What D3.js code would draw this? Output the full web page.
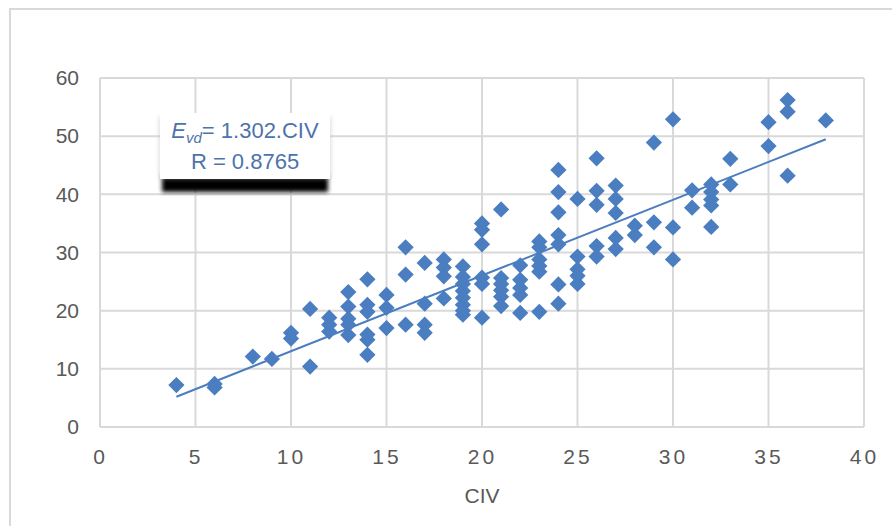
<!DOCTYPE html>
<html>
<head>
<meta charset="utf-8">
<script src="https://cdn.jsdelivr.net/npm/d3@7"></script>
<style>
  html, body { margin: 0; padding: 0; background: #ffffff; }
  svg { display: block; }
  text { font-family: "Liberation Sans", Arial, sans-serif; }
</style>
</head>
<body>
<svg id="chart" width="892" height="526"></svg>
<script>
// CIV (x) and Evd (y) pairs, one entry per observation
const civ = [
  4,
  6, 6,
  8,
  9,
  10, 10,
  11, 11,
  12, 12, 12,
  13, 13, 13, 13, 13,
  14, 14, 14, 14, 14, 14,
  15, 15, 15,
  16, 16, 16,
  17, 17, 17, 17,
  18, 18, 18, 18,
  19, 19, 19, 19, 19, 19, 19, 19,
  20, 20, 20, 20, 20, 20,
  21, 21, 21, 21, 21, 21,
  22, 22, 22, 22, 22,
  23, 23, 23, 23, 23, 23,
  24, 24, 24, 24, 24, 24, 24,
  25, 25, 25, 25, 25,
  26, 26, 26, 26, 26,
  27, 27, 27, 27, 27,
  28, 28,
  29, 29, 29,
  30, 30, 30,
  31, 31,
  32, 32, 32, 32, 32,
  33, 33,
  35, 35,
  36, 36, 36,
  38
];
const evd = [
  7.2,
  7.4, 6.8,
  12.1,
  11.7,
  16.2, 15.2,
  20.3, 10.4,
  18.8, 17.6, 16.4,
  23.2, 20.7, 18.6, 17.6, 15.8,
  25.4, 21.0, 19.8, 15.9, 15.0, 12.4,
  22.7, 20.5, 17.0,
  30.9, 26.2, 17.6,
  28.2, 21.2, 17.6, 16.2,
  28.8, 27.4, 25.9, 22.1,
  27.6, 25.8, 24.6, 23.4, 22.2, 21.0, 20.0, 19.3,
  35.0, 33.9, 31.4, 25.7, 24.6, 18.8,
  37.4, 25.6, 24.6, 23.5, 22.4, 20.8,
  27.8, 25.3, 23.9, 22.7, 19.6,
  31.9, 30.9, 28.8, 27.7, 26.7, 19.8,
  44.2, 40.4, 36.9, 33.0, 31.4, 24.5, 21.2,
  39.2, 29.3, 27.1, 26.0, 24.6,
  46.2, 40.6, 38.2, 31.1, 29.3,
  41.5, 39.2, 36.8, 32.5, 30.6,
  34.6, 33.0,
  48.9, 35.2, 30.9,
  52.9, 34.3, 28.8,
  40.7, 37.7,
  41.7, 40.4, 39.1, 38.1, 34.4,
  46.1, 41.7,
  52.4, 48.3,
  56.2, 54.2, 43.2,
  52.7
];

// Fitted line Evd = slope * CIV, drawn over the observed CIV range
const slope = 1.302;
const rValue = "0.8765";
const xTicks = [0, 5, 10, 15, 20, 25, 30, 35, 40];
const yTicks = [0, 10, 20, 30, 40, 50, 60];
const xTitle = "CIV";

const points = civ.map((c, i) => ({ x: c, y: evd[i] }));

const blue = "#4a7ec0";
const grid = "#d9d9d9";
const labelColor = "#595959";

const svg = d3.select("#chart");

const plot = { left: 100, right: 864, top: 78, bottom: 427 };
const x = d3.scaleLinear().domain([0, 40]).range([plot.left, plot.right]);
const y = d3.scaleLinear().domain([0, 60]).range([plot.bottom, plot.top]);

// Outer chart frame
svg.append("rect")
  .attr("x", 10).attr("y", 9)
  .attr("width", 900).attr("height", 540)
  .attr("fill", "#ffffff")
  .attr("stroke", grid).attr("stroke-width", 2);

// Gridlines
svg.append("g").selectAll("line.v").data(xTicks).join("line")
  .attr("x1", d => x(d)).attr("x2", d => x(d))
  .attr("y1", plot.top).attr("y2", plot.bottom)
  .attr("stroke", grid).attr("stroke-width", 2);
svg.append("g").selectAll("line.h").data(yTicks).join("line")
  .attr("x1", plot.left).attr("x2", plot.right)
  .attr("y1", d => y(d)).attr("y2", d => y(d))
  .attr("stroke", grid).attr("stroke-width", 2);

// Y axis labels
const yAxis = d3.axisLeft(y).tickValues(yTicks).tickSize(0).tickPadding(21);
const gy = svg.append("g").attr("transform", `translate(${plot.left},0)`).call(yAxis);
gy.select(".domain").remove();
gy.selectAll("text")
  .attr("fill", labelColor)
  .style("font-size", "21px")
  .style("font-family", "'Liberation Sans', Arial, sans-serif");

// X axis labels
const xAxis = d3.axisBottom(x).tickValues(xTicks).tickSize(0).tickPadding(22);
const gx = svg.append("g").attr("transform", `translate(0,${plot.bottom})`).call(xAxis);
gx.select(".domain").remove();
gx.selectAll("text")
  .attr("fill", labelColor)
  .style("font-size", "21px")
  .style("letter-spacing", "3px")
  .style("font-family", "'Liberation Sans', Arial, sans-serif");

// X axis title
svg.append("text")
  .attr("x", x(20)).attr("y", 503)
  .attr("text-anchor", "middle")
  .attr("fill", labelColor)
  .style("font-size", "21px")
  .text(xTitle);

// Trendline
const xMin = d3.min(civ), xMax = d3.max(civ);
svg.append("line")
  .attr("x1", x(xMin)).attr("y1", y(slope * xMin))
  .attr("x2", x(xMax)).attr("y2", y(slope * xMax))
  .attr("stroke", blue).attr("stroke-width", 2);

// Data markers (diamonds)
const diamond = d3.symbol().type(d3.symbolSquare).size(132);
svg.append("g").selectAll("path").data(points).join("path")
  .attr("d", diamond)
  .attr("transform", d => `translate(${x(d.x)},${y(d.y)}) rotate(45)`)
  .attr("fill", blue);

// Equation label with shadow
const defs = svg.append("defs");
defs.append("filter").attr("id", "soft")
  .attr("x", "-20%").attr("y", "-50%").attr("width", "140%").attr("height", "200%")
  .append("feGaussianBlur").attr("stdDeviation", 2.2);

const box = { x: 160, y: 113, w: 170, h: 66 };
svg.append("rect")
  .attr("x", box.x + 2).attr("y", box.y + box.h - 4)
  .attr("width", box.w - 4).attr("height", 17)
  .attr("fill", "#000000")
  .attr("filter", "url(#soft)");
svg.append("rect")
  .attr("x", box.x - 1).attr("y", box.y + 4)
  .attr("width", box.w + 2).attr("height", box.h - 4)
  .attr("fill", "#bbbbbb")
  .attr("opacity", 0.5)
  .attr("filter", "url(#soft)");
svg.append("rect")
  .attr("x", box.x).attr("y", box.y)
  .attr("width", box.w).attr("height", box.h)
  .attr("fill", "#ffffff");

const eq = svg.append("text")
  .attr("x", box.x + box.w / 2).attr("y", 138)
  .attr("text-anchor", "middle")
  .attr("fill", "#4d73ad")
  .style("font-size", "22px");
eq.append("tspan").style("font-style", "italic").text("E");
eq.append("tspan").style("font-style", "italic").style("font-size", "15px").attr("dy", 5).text("vd");
eq.append("tspan").attr("dy", -5).text("= " + slope + ".CIV");

svg.append("text")
  .attr("x", box.x + box.w / 2).attr("y", 169)
  .attr("text-anchor", "middle")
  .attr("fill", "#4d73ad")
  .style("font-size", "22px")
  .text("R = " + rValue);
</script>
</body>
</html>
